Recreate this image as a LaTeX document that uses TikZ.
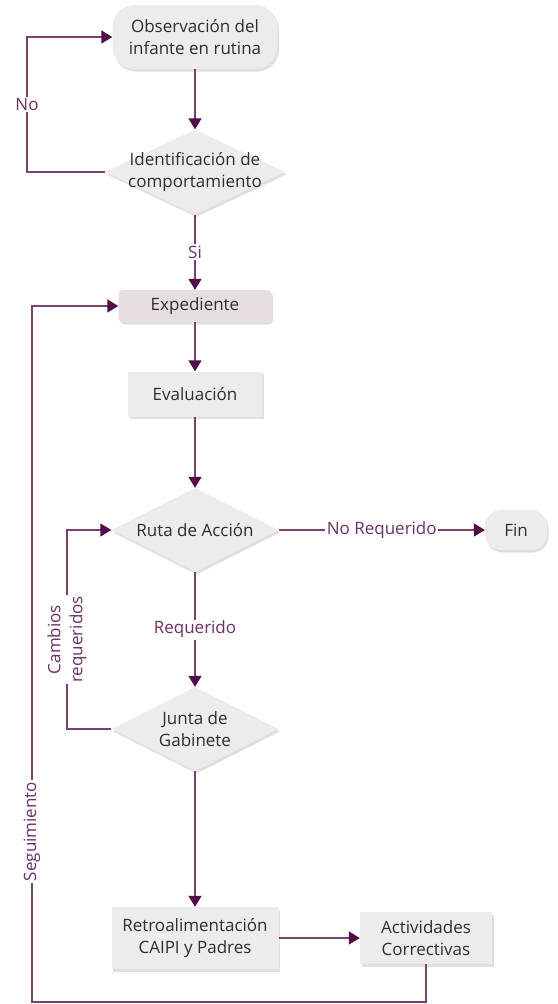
\documentclass[tikz,border=0pt]{standalone}
\usepackage{fontspec}
\setmainfont{Open Sans}
\usetikzlibrary{arrows.meta,shapes.geometric,shadows}
\definecolor{linec}{HTML}{784270}
\definecolor{tipc}{HTML}{520C47}
\definecolor{labc}{HTML}{6E2F66}
\definecolor{boxf}{HTML}{ECECEC}
\definecolor{expf}{HTML}{E6DEE1}
\definecolor{txtc}{HTML}{2E2E2E}
\begin{document}
\begin{tikzpicture}[x=1pt,y=1pt,
  txt/.style={font=\fontsize{17}{22}\selectfont, text=txtc, align=center},
  base/.style={txt, fill=boxf, draw=none, inner sep=0pt,
    drop shadow={opacity=0.25, shadow xshift=1.5pt, shadow yshift=-2.5pt}},
  boxn/.style={base, rectangle},
  pill/.style={base, rectangle},
  dia/.style={base, diamond, aspect=2},
  dtext/.style={txt, inner sep=0pt},
  conn/.style={draw=linec, line width=1.5pt, -{Triangle[length=11pt,width=13pt,color=tipc]}},
  lab/.style={font=\fontsize{17}{22}\selectfont, text=labc, fill=white, inner sep=1.5pt, align=center}
]
\useasboundingbox[fill=white] (0,0) rectangle (557,-1004);

% nodes
\node[pill, minimum width=165pt, minimum height=64pt, rounded corners=22pt] (obs) at (195,-37) {Observación del\\infante en rutina};
\node[dia, minimum width=180pt, minimum height=85pt, label={[dtext]center:Identificación de\\comportamiento}] (ident) at (195,-172) {};
\node[boxn, fill=expf, minimum width=153pt, minimum height=32pt, rounded corners=4pt] (exp) at (195,-306) {Expediente};
\node[boxn, minimum width=134pt, minimum height=45pt] (eval) at (195,-394) {Evaluación};
\node[dia, minimum width=167pt, minimum height=84pt, label={[dtext]center:Ruta de Acción}] (ruta) at (195,-530) {};
\node[pill, minimum width=62pt, minimum height=40pt, rounded corners=16pt] (fin) at (516,-530) {Fin};
\node[dia, minimum width=167pt, minimum height=84pt, label={[dtext]center:Junta de\\Gabinete}] (junta) at (195,-729) {};
\node[boxn, minimum width=167pt, minimum height=62pt] (retro) at (195,-938) {Retroalimentación\\CAIPI y Padres};
\node[boxn, minimum width=132pt, minimum height=52pt] (act) at (426,-938) {Actividades\\Correctivas};

% corner coordinates
\coordinate (noA) at (27,-172);
\coordinate (noB) at (27,-37);
\coordinate (caA) at (67,-729);
\coordinate (caB) at (67,-530);
\coordinate (seA) at (426,-1002);
\coordinate (seB) at (32,-1002);
\coordinate (seC) at (32,-306);

% connectors
\draw[conn] (obs.south) -- (ident.north);
\draw[conn] (ident.west) -- (noA) -- node[lab]{No} (noB) -- (obs.west);
\draw[conn] (ident.south) -- node[lab]{Si} (exp.north);
\draw[conn] (exp.south) -- (eval.north);
\draw[conn] (eval.south) -- (ruta.north);
\draw[conn] (ruta.east) -- node[lab]{No Requerido} (fin.west);
\draw[conn] (ruta.south) -- node[lab]{Requerido} (junta.north);
\draw[conn] (junta.west) -- (caA) -- node[lab, rotate=90, pos=0.45]{Cambios\\requeridos} (caB) -- (ruta.west);
\draw[conn] (junta.south) -- (retro.north);
\draw[conn] (retro.east) -- (act.west);
\draw[conn] (act.south) -- (seA) -- (seB) -- node[lab, rotate=90, pos=0.245]{Seguimiento} (seC) -- (exp.west);
\end{tikzpicture}
\end{document}
